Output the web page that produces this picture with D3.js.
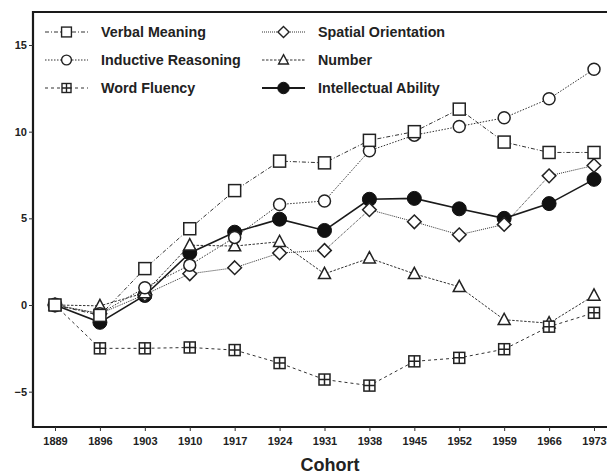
<!DOCTYPE html>
<html>
<head>
<meta charset="utf-8">
<script src="https://cdn.jsdelivr.net/npm/d3@7"></script>
<style>
  body { margin: 0; background: #fff; }
  svg { display: block; font-family: "Liberation Sans", Arial, sans-serif; font-weight: bold; }
</style>
</head>
<body>
<svg id="chart" width="607" height="476"></svg>
<script>
const cohorts = [1889, 1896, 1903, 1910, 1917, 1924, 1931, 1938, 1945, 1952, 1959, 1966, 1973];
const yTicks = [-5, 0, 5, 10, 15];

const verbalMeaning = [0, -0.6, 2.1, 4.4, 6.6, 8.3, 8.2, 9.5, 10.0, 11.3, 9.4, 8.8, 8.8];
const inductiveReasoning = [0, -0.5, 1.0, 2.3, 3.9, 5.8, 6.0, 8.9, 9.8, 10.3, 10.8, 11.9, 13.6];
const wordFluency = [0, -2.5, -2.5, -2.45, -2.6, -3.35, -4.3, -4.65, -3.25, -3.05, -2.55, -1.25, -0.45];
const spatialOrientation = [0, -0.5, 0.6, 1.8, 2.15, 3.0, 3.15, 5.5, 4.8, 4.05, 4.65, 7.45, 8.05];
const number = [0, -0.05, 0.7, 3.45, 3.4, 3.65, 1.8, 2.7, 1.8, 1.05, -0.85, -1.05, 0.55];
const intellectualAbility = [0, -1.0, 0.55, 3.0, 4.2, 4.95, 4.3, 6.1, 6.15, 5.55, 5.0, 5.85, 7.25];

const series = [
  { name: 'Verbal Meaning', values: verbalMeaning, marker: 'square', dash: '4,2,1,2', width: 1 },
  { name: 'Inductive Reasoning', values: inductiveReasoning, marker: 'circle', dash: '1.5,1.5', width: 1 },
  { name: 'Word Fluency', values: wordFluency, marker: 'squarePlus', dash: '3,3', width: 1 },
  { name: 'Spatial Orientation', values: spatialOrientation, marker: 'diamond', dash: '1,1', width: 1 },
  { name: 'Number', values: number, marker: 'triangle', dash: '2.5,1.5', width: 1 },
  { name: 'Intellectual Ability', values: intellectualAbility, marker: 'dot', dash: null, width: 1.6 },
];
// markers are stacked in this order (verbal meaning squares end up on top)
const markOrder = [5, 3, 4, 1, 2, 0];

const svg = d3.select('#chart');
const frame = { left: 33, top: 12, right: 612, bottom: 427 };

const x = d3.scaleLinear().domain([1889, 1973]).range([55, 594]);
const y = d3.scaleLinear().domain([0, 15]).range([305, 45]);

// frame
svg.append('path')
  .attr('d', `M${frame.right},${frame.top}H${frame.left}V${frame.bottom}H${frame.right}`)
  .attr('fill', 'none')
  .attr('stroke', '#1a1a1a')
  .attr('stroke-width', 2.2);

// axes
const gx = svg.append('g')
  .attr('transform', `translate(0,${frame.bottom})`)
  .call(d3.axisBottom(x).tickValues(cohorts).tickFormat(d3.format('d')).tickSize(4).tickPadding(6));
const gy = svg.append('g')
  .attr('transform', `translate(${frame.left},0)`)
  .call(d3.axisLeft(y).tickValues(yTicks).tickSize(4).tickPadding(2));
[gx, gy].forEach((g) => {
  g.select('.domain').remove();
  g.selectAll('line').attr('stroke', '#333');
  g.selectAll('text')
    .attr('fill', '#222')
    .style('font-family', '"Liberation Sans", Arial, sans-serif')
    .style('font-weight', 'bold')
    .style('font-size', '11px');
});

svg.append('text')
  .attr('x', 330)
  .attr('y', 471)
  .attr('text-anchor', 'middle')
  .attr('fill', '#222')
  .style('font-size', '18px')
  .text('Cohort');

function drawMarker(g, type, k = 1) {
  const stroke = '#222';
  const sw = 1.5 * Math.min(1, k + 0.1);
  if (type === 'square' || type === 'squarePlus') {
    const s = (type === 'square' ? 12 : 11) * k;
    g.append('rect')
      .attr('x', -s / 2).attr('y', -s / 2).attr('width', s).attr('height', s)
      .attr('fill', '#fff').attr('stroke', stroke).attr('stroke-width', sw);
    if (type === 'squarePlus') {
      g.append('path')
        .attr('d', `M0,${-s / 2}V${s / 2}M${-s / 2},0H${s / 2}`)
        .attr('stroke', stroke).attr('stroke-width', sw);
    }
  } else if (type === 'circle') {
    g.append('circle').attr('r', 6 * k)
      .attr('fill', '#fff').attr('stroke', stroke).attr('stroke-width', sw);
  } else if (type === 'dot') {
    g.append('circle').attr('r', 7 * k)
      .attr('fill', '#111').attr('stroke', '#111').attr('stroke-width', 1);
  } else if (type === 'diamond') {
    g.append('path').attr('d', `M0,${-6.8 * k}L${6.8 * k},0L0,${6.8 * k}L${-6.8 * k},0Z`)
      .attr('fill', '#fff').attr('stroke', stroke).attr('stroke-width', sw);
  } else if (type === 'triangle') {
    g.append('path').attr('d', `M0,${-6.5 * k}L${6 * k},${4.8 * k}L${-6 * k},${4.8 * k}Z`)
      .attr('fill', '#fff').attr('stroke', stroke).attr('stroke-width', sw);
  }
}

const line = d3.line().x((d, i) => x(cohorts[i])).y(d => y(d));

const gLines = svg.append('g');
series.forEach((s) => {
  gLines.append('path')
    .attr('d', line(s.values))
    .attr('fill', 'none')
    .attr('stroke', s.dash ? '#333' : '#1a1a1a')
    .attr('stroke-width', s.width)
    .attr('stroke-dasharray', s.dash);
});

const gMarks = svg.append('g');
markOrder.forEach((si) => {
  const s = series[si];
  gMarks.selectAll(null)
    .data(s.values)
    .join('g')
    .attr('transform', (d, i) => `translate(${x(cohorts[i])},${y(d)})`)
    .each(function () { drawMarker(d3.select(this), s.marker); });
});

// legend
const legend = svg.append('g');
series.forEach((s, i) => {
  const col = Math.floor(i / 3);
  const row = i % 3;
  const lx = col === 0 ? 45 : 262;
  const ly = 32 + row * 28;
  const item = legend.append('g').attr('transform', `translate(${lx},${ly})`);
  item.append('line')
    .attr('x1', 0).attr('x2', 43)
    .attr('stroke', s.dash ? '#333' : '#1a1a1a')
    .attr('stroke-width', s.dash ? 1.2 : 1.8)
    .attr('stroke-dasharray', s.dash);
  drawMarker(item.append('g').attr('transform', 'translate(21.5,0)'), s.marker, 0.82);
  item.append('text')
    .attr('x', 56)
    .attr('y', 5)
    .attr('fill', '#222')
    .style('font-size', '14.3px')
    .text(s.name);
});
</script>
</body>
</html>
